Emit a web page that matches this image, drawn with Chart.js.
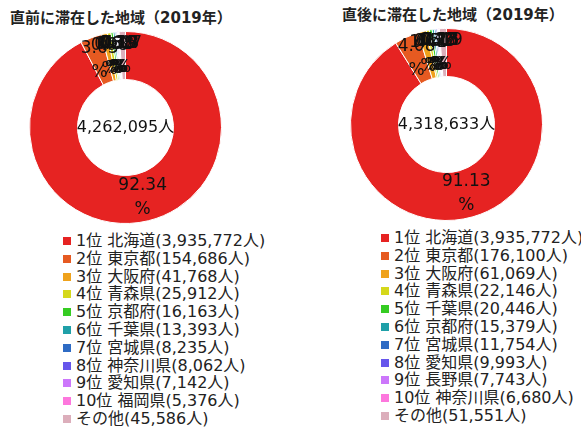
<!DOCTYPE html>
<html lang="ja">
<head>
<meta charset="UTF-8" />
<title>滞在した地域（2019年）</title>
<script src="https://cdn.jsdelivr.net/npm/chart.js"></script>
<style>
  body { margin: 0; width: 581px; height: 430px; overflow: hidden; background: #fff;
         font-family: "DejaVu Sans", "Noto Sans CJK JP", sans-serif; color: #222; }
  .title { position: absolute; font-size: 15px; font-weight: bold; line-height: 20px; white-space: nowrap; color: #222; }
  .pie { position: absolute; }
  .legend { position: absolute; font-size: 16px; line-height: 17.8px; white-space: nowrap; }
  .legend .box { display: inline-block; width: 8px; height: 8px; margin-right: 5px; vertical-align: 1px; }
</style>
</head>
<body>
  <div class="title" style="left:10px; top:8px;">直前に滞在した地域（2019年）</div>
  <div class="title" style="left:342px; top:5px;">直後に滞在した地域（2019年）</div>

  <div class="pie" style="left:29px; top:31px; width:193px; height:193px;"><canvas id="beforeChart"></canvas></div>
  <div class="pie" style="left:350px; top:28px; width:193px; height:193px;"><canvas id="afterChart"></canvas></div>

  <div class="legend" id="beforeLegend" style="left:63px; top:232px;"></div>
  <div class="legend" id="afterLegend" style="left:381px; top:229px;"></div>

<script>
  const colors = ['#e62322', '#e65a21', '#efa21c', '#d5d81b', '#35cc22', '#1fa0a8',
                  '#2e6bc4', '#6656ec', '#cc77fb', '#fd77dd', '#dcaebb'];

  const beforeLabels = ['1位 北海道', '2位 東京都', '3位 大阪府', '4位 青森県', '5位 京都府', '6位 千葉県',
                        '7位 宮城県', '8位 神奈川県', '9位 愛知県', '10位 福岡県', 'その他'];
  const beforeValues = [3935772, 154686, 41768, 25912, 16163, 13393, 8235, 8062, 7142, 5376, 45586];

  const afterLabels = ['1位 北海道', '2位 東京都', '3位 大阪府', '4位 青森県', '5位 千葉県', '6位 京都府',
                       '7位 宮城県', '8位 愛知県', '9位 長野県', '10位 神奈川県', 'その他'];
  const afterValues = [3935772, 176100, 61069, 22146, 20446, 15379, 11754, 9993, 7743, 6680, 51551];

  const fmt = n => n.toLocaleString('en-US');

  // percent labels on each slice + total in the hole
  const sliceLabels = {
    id: 'sliceLabels',
    afterDatasetsDraw(chart) {
      const ctx = chart.ctx;
      const data = chart.data.datasets[0].data;
      const total = data.reduce((a, b) => a + b, 0);
      const arcs = chart.getDatasetMeta(0).data;
      ctx.save();
      ctx.fillStyle = '#111';
      ctx.textAlign = 'center';
      ctx.textBaseline = 'middle';
      ctx.font = '17px "DejaVu Sans", "Noto Sans CJK JP"';
      arcs.forEach((arc, i) => {
        const p = arc.getCenterPoint();
        const pct = (data[i] / total * 100).toFixed(2);
        ctx.fillText(pct, p.x, p.y - 12);
        ctx.fillText('%', p.x, p.y + 12);
      });
      ctx.font = '16px "DejaVu Sans", "Noto Sans CJK JP"';
      ctx.fillText(fmt(total) + '人', arcs[0].x, arcs[0].y);
      ctx.restore();
    }
  };

  function makeChart(id, labels, values) {
    new Chart(document.getElementById(id), {
      type: 'doughnut',
      data: {
        labels: labels,
        datasets: [{
          data: values,
          backgroundColor: colors,
          borderColor: '#fff',
          borderWidth: 1
        }]
      },
      options: {
        responsive: true,
        maintainAspectRatio: false,
        animation: false,
        cutout: '50%',
        layout: { padding: 0 },
        plugins: {
          legend: { display: false },
          tooltip: { enabled: false }
        }
      },
      plugins: [sliceLabels]
    });
  }

  function makeLegend(id, labels, values) {
    const el = document.getElementById(id);
    el.innerHTML = labels.map((l, i) =>
      '<div><span class="box" style="background:' + colors[i] + '"></span>' + l + '(' + fmt(values[i]) + '人)</div>'
    ).join('');
  }

  makeChart('beforeChart', beforeLabels, beforeValues);
  makeChart('afterChart', afterLabels, afterValues);
  makeLegend('beforeLegend', beforeLabels, beforeValues);
  makeLegend('afterLegend', afterLabels, afterValues);
</script>
</body>
</html>
